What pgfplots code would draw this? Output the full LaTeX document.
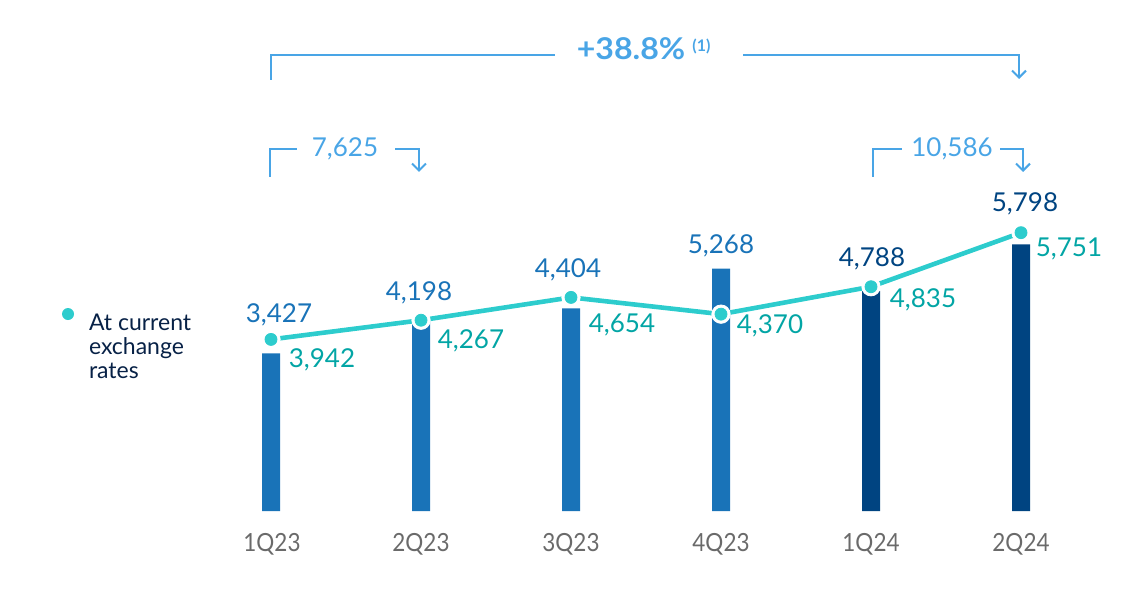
\documentclass[border=0pt]{standalone}
\usepackage{pgfplots}
\pgfplotsset{compat=1.18}
\usepackage{fontspec}
\setmainfont{Lato}
\usetikzlibrary{arrows.meta}
\definecolor{barL}{HTML}{1973B8}
\definecolor{barD}{HTML}{004481}
\definecolor{turq}{HTML}{2DCCCD}
\definecolor{teal}{HTML}{02A5A5}
\definecolor{lblue}{HTML}{49A5E6}
\definecolor{navy}{HTML}{072146}
\definecolor{catgray}{HTML}{6A6A6A}
\begin{document}
\begin{tikzpicture}
\useasboundingbox (0pt,0pt) rectangle (573pt,297pt);
\begin{axis}[at={(0pt,0pt)}, anchor=south west, scale only axis,
  width=573pt, height=297pt,
  xmin=-1.8067, xmax=5.8333, ymin=-1804, ymax=11109,
  hide axis, clip=false]
\addplot[ybar, bar width=9pt, bar shift=0pt, fill=barL, draw=none]
  coordinates {(0,3427) (1,4198) (2,4404) (3,5268)};
\addplot[ybar, bar width=9pt, bar shift=0pt, fill=barD, draw=none]
  coordinates {(4,4788) (5,5798)};
\end{axis}
\begin{axis}[at={(0pt,0pt)}, anchor=south west, scale only axis,
  width=573pt, height=297pt,
  xmin=-1.8067, xmax=5.8333, ymin=-373, ymax=9695,
  hide axis, clip=false,
  legend style={at={(axis description cs:0.0672,0.4764)}, anchor=north west,
    draw=none, fill=none, inner sep=0pt, outer sep=0pt,
    font=\fontsize{11.5}{12.2}\selectfont, text=navy,
    nodes={align=left, inner sep=0pt}},
  legend image code/.code={\path[draw=none,fill=none] (-11.8pt,12.4pt) rectangle (-5.8pt,18.4pt);
    \fill[turq,draw=none,overlay] (-16.3pt,16.9pt) circle (3pt);}]
\addplot[only marks, mark=*, mark size=4.6pt, color=white, forget plot]
  coordinates {(0,3942) (1,4267) (2,4654) (3,4370) (4,4835) (5,5751)};
\addplot[turq, line width=2.3pt, forget plot]
  coordinates {(0,3942) (1,4267) (2,4654) (3,4370) (4,4835) (5,5751)};
\addplot[only marks, mark=*, mark size=3pt, color=turq, forget plot]
  coordinates {(0,3942) (1,4267) (2,4654) (3,4370) (4,4835) (5,5751)};
\addlegendimage{turq}
\addlegendentry{At current\\exchange\\rates}
\end{axis}
\begin{scope}[x=0.5pt, y=-0.5pt, shift={(0pt,297pt)}]
  % value labels (bars)
  \begin{scope}[every node/.style={anchor=base, inner sep=0pt, font=\fontsize{13}{13}\selectfont}]
    \node[text=barL] at (279,323) {3,427};
    \node[text=barL] at (419,301) {4,198};
    \node[text=barL] at (568,278) {4,404};
    \node[text=barL] at (721,254) {5,268};
    \node[text=barD] at (872,267) {4,788};
    \node[text=barD] at (1025,212) {5,798};
    \node[text=teal] at (322,368) {3,942};
    \node[text=teal] at (471,349) {4,267};
    \node[text=teal] at (622,333) {4,654};
    \node[text=teal] at (770,334) {4,370};
    \node[text=teal] at (923,308) {4,835};
    \node[text=teal] at (1069,257) {5,751};
    \node[text=lblue] at (345,157) {7,625};
    \node[text=lblue] at (952,157) {10,586};
  \end{scope}
  % category labels
  \begin{scope}[every node/.style={anchor=base, inner sep=0pt, text=catgray, xscale=0.9, font=\fontsize{12.5}{12.5}\selectfont}]
    \node at (272,552) {1Q23};
    \node at (421,552) {2Q23};
    \node at (571,552) {3Q23};
    \node at (721,552) {4Q23};
    \node at (871,552) {1Q24};
    \node at (1021,552) {2Q24};
  \end{scope}
  % brackets
  \begin{scope}[draw=lblue, line width=1pt]
    \draw (271,80) -- (271,55) -- (555,55);
    \draw[-{Straight Barb[length=3.5pt,width=7pt]}] (743,55) -- (1019,55) -- (1019,79);
    \draw (270,177) -- (270,149) -- (297,149);
    \draw[-{Straight Barb[length=3.5pt,width=7pt]}] (395,149) -- (419,149) -- (419,172);
    \draw (873,177) -- (873,149) -- (902,149);
    \draw[-{Straight Barb[length=3.5pt,width=7pt]}] (1000,149) -- (1023,149) -- (1023,172);
  \end{scope}
  \node[anchor=base, inner sep=0pt, text=lblue, xscale=1.07, font=\fontsize{15}{15}\bfseries\selectfont] at (631,60) {+38.8\%};
  \node[anchor=base west, inner sep=0pt, text=lblue, font=\fontsize{8}{8}\bfseries\selectfont] at (692,52) {(1)};
\end{scope}
\end{tikzpicture}
\end{document}
